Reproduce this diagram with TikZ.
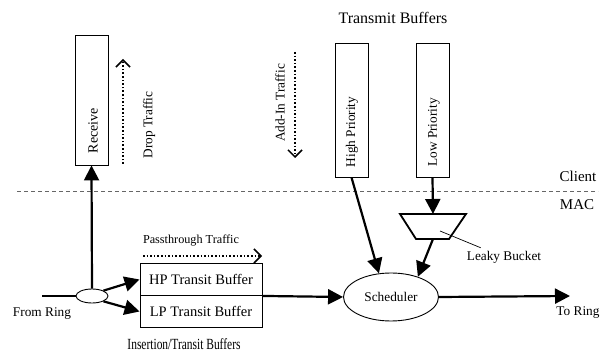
\documentclass[tikz,border=0pt]{standalone}
\usepackage{fontspec}
\setmainfont{Liberation Serif}
\usepackage{graphicx}
\usetikzlibrary{shapes,arrows.meta,positioning}

\tikzset{
  buffer/.style={draw, line width=0.9pt, minimum width=33pt, inner sep=0pt},
  transit/.style={draw, line width=0.9pt, minimum width=122pt, minimum height=32pt, inner sep=0pt, font=\fontsize{14.5}{16}\selectfont},
  lbl/.style={font=\fontsize{13.3}{15}\selectfont, inner sep=0pt},
  biglbl/.style={font=\fontsize{15}{17}\selectfont, inner sep=0pt},
  flow/.style={line width=2.2pt, -{Triangle[length=15pt,width=15pt]}},
  traffic/.style={line width=1.6pt, dotted, -{Straight Barb[length=7pt,width=14pt,line width=1.5pt]}},
}

\begin{document}
\begin{tikzpicture}[x=1pt,y=-1pt]
\useasboundingbox (0,0) rectangle (602,352);

% client / MAC divider
\coordinate (divl) at (17,191);
\coordinate (divr) at (598,191);
\draw[gray!80!black, line width=0.8pt, dash pattern=on 4pt off 3pt] (divl) -- (divr);
\node[biglbl] (client) at (578,176) {Client};
\node[biglbl] (mac) at (577,205) {MAC};

% buffers on the client side
\node[buffer, minimum height=130pt] (rcv) at (91.5,100) {};
\node[lbl, rotate=90, font=\fontsize{14}{16}\selectfont] (rcvtxt) at (93,130.5) {Receive};
\node[buffer, minimum height=134pt] (hip) at (351.5,110) {};
\node[lbl, rotate=90] (hiptxt) at (352,132) {High Priority};
\node[buffer, minimum height=134pt] (lop) at (432.5,110) {};
\node[lbl, rotate=90] (loptxt) at (434,132.5) {Low Priority};
\node[biglbl, font=\fontsize{16}{18}\selectfont] (txbuf) at (393,18) {Transmit Buffers};

% traffic hints
\coordinate (drop0) at (123,164);
\coordinate (drop1) at (123,59);
\draw[traffic] (drop0) -- (drop1);
\node[lbl, rotate=90] (droptxt) at (149,125) {Drop Traffic};
\coordinate (add0) at (295,52);
\coordinate (add1) at (295,158);
\draw[traffic] (add0) -- (add1);
\node[lbl, rotate=90] (addtxt) at (280,103) {Add-In Traffic};
\coordinate (pass0) at (143,256);
\coordinate (pass1) at (262,256);
\draw[traffic] (pass0) -- (pass1);
\node[lbl, font=\fontsize{12.2}{14}\selectfont] (passtxt) at (191,241) {Passthrough Traffic};

% MAC side
\node[draw, ellipse, line width=0.9pt, minimum width=32pt, minimum height=14pt, inner sep=0pt] (split) at (92,296) {};
\node[transit] (hp) at (201,279.5) {HP Transit Buffer};
\node[transit] (lp) at (201,311.5) {LP Transit Buffer};
\node[biglbl, font=\fontsize{15.5}{17}\selectfont] (instxt) at (184,344) {\scalebox{0.74}[1]{Insertion/Transit Buffers}};
\node[draw, ellipse, line width=0.9pt, minimum width=95pt, minimum height=48pt, inner sep=0pt, lbl] (sched) at (391,297) {Scheduler};

% leaky bucket
\coordinate (lbtl) at (400,214);
\coordinate (lbtr) at (466,214);
\coordinate (lbbr) at (449,239);
\coordinate (lbbl) at (416,239);
\draw[line width=1.8pt, line join=miter] (lbtl) -- (lbtr) -- (lbbr) -- (lbbl) -- cycle;
\coordinate (lbtop) at (433,214);
\coordinate (lbbot) at (433,239);
\node[lbl] (lbtxt) at (504,257) {Leaky Bucket};
\coordinate (lbpin) at (440,231);
\draw[line width=0.7pt] (lbpin) -- ([shift={(14,-3)}]lbtxt.north west);

\coordinate (fromring) at (42,296);
\coordinate (toring) at (570,296);
\node[lbl] (fromtxt) at (42,314) {From Ring};
\node[lbl] (totxt) at (578,313) {To Ring};

% connectors
\draw[line width=2.2pt] (fromring) -- (split.west);
\draw[flow] (split.north) -- (rcv.south);
\draw[flow] (split.25) -- (hp.west);
\draw[flow] (split.-25) -- (lp.west);
\draw[flow] (hp.south east) -- (sched.west);
\draw[flow] (hip.south) -- (sched.117);
\draw[flow] (lop.south) -- (lbtop);
\draw[flow] (lbbot) -- (sched.37);
\draw[flow] (sched.east) -- (toring);
\end{tikzpicture}
\end{document}
